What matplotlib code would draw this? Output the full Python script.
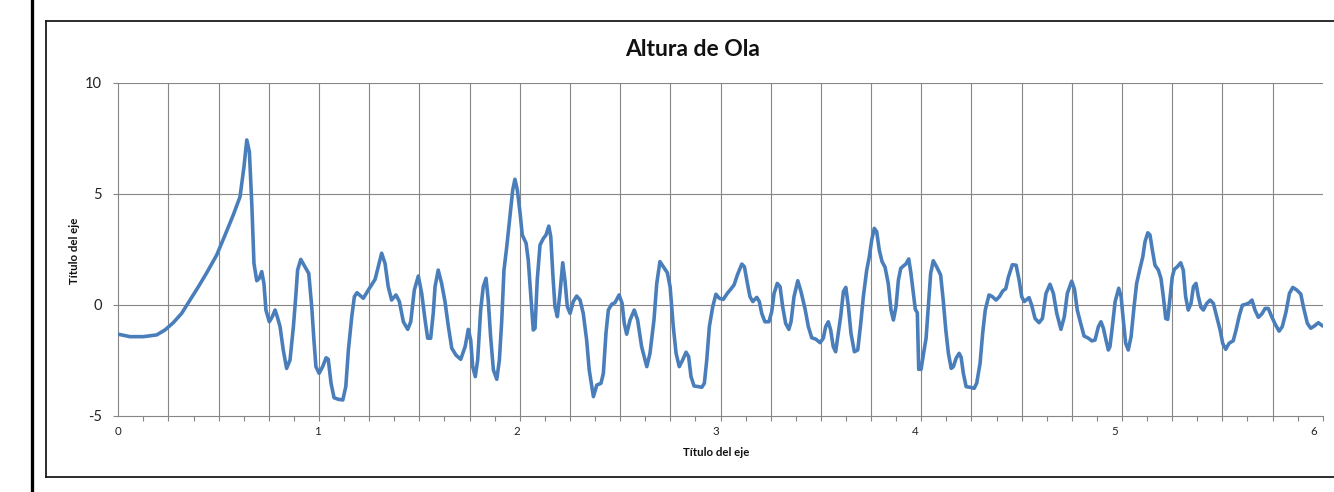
import numpy as np
import matplotlib
matplotlib.use("Agg")
import matplotlib.pyplot as plt
from matplotlib.lines import Line2D

# ---------------- data ----------------
title = "Altura de Ola"
x_title = "Título del eje"
y_title = "Título del eje"
x_tick_vals = [0, 1, 2, 3, 4, 5, 6]
x_tick_labels = ["0", "1", "2", "3", "4", "5", "6"]
y_tick_vals = [-5, 0, 5, 10]
y_tick_labels = ["-5", "0", "5", "10"]
x_max = 6.046

wave_x = [
    0.000, 0.059, 0.126, 0.193, 0.234, 0.276, 0.318, 0.360, 0.402, 0.444,
    0.494, 0.536, 0.577, 0.611, 0.631, 0.645, 0.658, 0.670, 0.681, 0.695,
    0.708, 0.720, 0.731, 0.741, 0.758, 0.773, 0.787, 0.798, 0.812, 0.828,
    0.845, 0.862, 0.879, 0.892, 0.900, 0.916, 0.937, 0.956, 0.971, 0.982,
    0.992, 1.008, 1.026, 1.043, 1.054, 1.068, 1.083, 1.104, 1.127, 1.142,
    1.155, 1.172, 1.185, 1.198, 1.230, 1.255, 1.289, 1.305, 1.322, 1.339,
    1.355, 1.372, 1.394, 1.411, 1.431, 1.453, 1.468, 1.486, 1.506, 1.523,
    1.540, 1.553, 1.568, 1.581, 1.590, 1.606, 1.623, 1.640, 1.657, 1.674,
    1.695, 1.719, 1.741, 1.757, 1.769, 1.779, 1.792, 1.804, 1.819, 1.832,
    1.846, 1.857, 1.869, 1.883, 1.900, 1.913, 1.925, 1.936, 1.950, 1.966,
    1.980, 1.991, 2.003, 2.017, 2.028, 2.047, 2.058, 2.070, 2.083, 2.092,
    2.103, 2.117, 2.134, 2.147, 2.161, 2.171, 2.181, 2.192, 2.204, 2.217,
    2.231, 2.242, 2.254, 2.268, 2.284, 2.301, 2.318, 2.334, 2.351, 2.364,
    2.385, 2.402, 2.423, 2.435, 2.448, 2.460, 2.477, 2.493, 2.514, 2.529,
    2.540, 2.552, 2.569, 2.590, 2.607, 2.627, 2.653, 2.669, 2.689, 2.703,
    2.719, 2.736, 2.756, 2.770, 2.786, 2.800, 2.816, 2.833, 2.850, 2.863,
    2.875, 2.890, 2.912, 2.929, 2.942, 2.954, 2.967, 2.984, 3.000, 3.017,
    3.037, 3.057, 3.071, 3.091, 3.109, 3.130, 3.143, 3.158, 3.171, 3.185,
    3.205, 3.218, 3.230, 3.246, 3.266, 3.280, 3.292, 3.308, 3.322, 3.335,
    3.350, 3.366, 3.377, 3.392, 3.411, 3.427, 3.447, 3.464, 3.481, 3.501,
    3.523, 3.539, 3.551, 3.564, 3.576, 3.589, 3.601, 3.626, 3.640, 3.652,
    3.665, 3.678, 3.695, 3.712, 3.727, 3.740, 3.757, 3.770, 3.782, 3.795,
    3.807, 3.820, 3.834, 3.849, 3.865, 3.879, 3.891, 3.904, 3.916, 3.928,
    3.944, 3.954, 3.968, 3.979, 3.991, 4.001, 4.011, 4.018, 4.030, 4.041,
    4.055, 4.066, 4.078, 4.091, 4.108, 4.128, 4.141, 4.154, 4.167, 4.181,
    4.192, 4.206, 4.221, 4.231, 4.242, 4.256, 4.276, 4.296, 4.309, 4.326,
    4.339, 4.352, 4.371, 4.388, 4.406, 4.423, 4.440, 4.455, 4.468, 4.488,
    4.507, 4.522, 4.535, 4.548, 4.572, 4.585, 4.602, 4.622, 4.639, 4.657,
    4.677, 4.694, 4.711, 4.732, 4.749, 4.764, 4.786, 4.800, 4.814, 4.831,
    4.848, 4.870, 4.887, 4.903, 4.920, 4.933, 4.945, 4.958, 4.970, 4.978,
    4.990, 5.004, 5.022, 5.034, 5.045, 5.057, 5.070, 5.084, 5.099, 5.112,
    5.129, 5.143, 5.154, 5.168, 5.179, 5.191, 5.204, 5.221, 5.234, 5.246,
    5.258, 5.268, 5.280, 5.291, 5.301, 5.316, 5.333, 5.346, 5.358, 5.371,
    5.385, 5.397, 5.410, 5.422, 5.435, 5.447, 5.464, 5.481, 5.497, 5.514,
    5.531, 5.544, 5.559, 5.576, 5.597, 5.611, 5.628, 5.643, 5.661, 5.678,
    5.691, 5.706, 5.723, 5.740, 5.757, 5.773, 5.790, 5.807, 5.827, 5.843,
    5.862, 5.879, 5.896, 5.916, 5.936, 5.949, 5.969, 5.986, 6.004, 6.024,
    6.046,
]

wave_y = [
    -1.33, -1.44, -1.44, -1.36, -1.14, -0.81, -0.39, 0.21, 0.81, 1.44,
    2.24, 3.14, 4.04, 4.86, 6.22, 7.42, 6.89, 4.57, 1.86, 1.08,
    1.19, 1.49, 0.96, -0.24, -0.77, -0.54, -0.24, -0.54, -0.99, -2.04,
    -2.87, -2.49, -0.99, 0.51, 1.56, 2.04, 1.71, 1.41, -0.09, -1.59,
    -2.79, -3.09, -2.79, -2.39, -2.46, -3.54, -4.19, -4.26, -4.29, -3.69,
    -2.04, -0.54, 0.36, 0.54, 0.29, 0.66, 1.14, 1.71, 2.32, 1.86,
    0.81, 0.21, 0.44, 0.14, -0.77, -1.11, -0.77, 0.66, 1.29, 0.51,
    -0.69, -1.51, -1.51, -0.39, 0.81, 1.56, 0.96, 0.14, -0.99, -1.96,
    -2.27, -2.46, -1.89, -1.11, -1.59, -2.79, -3.24, -2.49, -0.24, 0.81,
    1.19, 0.21, -1.44, -2.94, -3.36, -2.49, -0.69, 1.56, 2.61, 3.96,
    5.17, 5.65, 5.17, 4.12, 3.14, 2.77, 2.01, 0.51, -1.14, -1.06,
    1.11, 2.69, 2.99, 3.14, 3.54, 3.06, 1.41, -0.09, -0.54, 0.51,
    1.89, 1.11, -0.09, -0.39, 0.14, 0.39, 0.21, -0.39, -1.59, -2.94,
    -4.14, -3.62, -3.54, -3.09, -1.29, -0.24, 0.02, 0.09, 0.44, 0.06,
    -0.84, -1.33, -0.69, -0.24, -0.69, -1.89, -2.79, -2.19, -0.69, 0.96,
    1.94, 1.71, 1.44, 0.81, -0.99, -2.19, -2.79, -2.49, -2.14, -2.34,
    -3.24, -3.66, -3.69, -3.72, -3.54, -2.49, -0.99, -0.09, 0.47, 0.29,
    0.24, 0.51, 0.66, 0.89, 1.37, 1.83, 1.71, 0.96, 0.36, 0.14,
    0.33, 0.14, -0.39, -0.77, -0.77, -0.32, 0.51, 0.96, 0.81, -0.09,
    -0.84, -1.11, -0.77, 0.36, 1.08, 0.59, -0.17, -0.99, -1.49, -1.55,
    -1.71, -1.51, -0.99, -0.77, -1.14, -1.89, -2.12, -0.54, 0.59, 0.78,
    -0.09, -1.29, -2.12, -2.04, -0.84, 0.36, 1.56, 2.16, 2.91, 3.44,
    3.29, 2.46, 1.94, 1.69, 0.96, -0.24, -0.69, -0.09, 1.11, 1.64,
    1.76, 1.84, 2.06, 1.41, 0.51, -0.21, -0.36, -2.91, -2.91, -2.27,
    -1.51, -0.09, 1.41, 1.98, 1.71, 1.34, 0.21, -1.14, -2.19, -2.87,
    -2.79, -2.41, -2.19, -2.37, -3.09, -3.69, -3.72, -3.77, -3.54, -2.64,
    -1.29, -0.24, 0.44, 0.36, 0.21, 0.36, 0.62, 0.72, 1.24, 1.80,
    1.78, 1.11, 0.36, 0.14, 0.32, -0.02, -0.62, -0.81, -0.62, 0.51,
    0.92, 0.51, -0.39, -1.11, -0.54, 0.51, 1.06, 0.70, -0.24, -0.84,
    -1.41, -1.51, -1.63, -1.59, -0.99, -0.77, -1.06, -1.59, -2.04, -1.89,
    -0.99, 0.14, 0.74, 0.36, -0.69, -1.74, -2.04, -1.44, -0.09, 0.96,
    1.64, 2.16, 2.84, 3.24, 3.14, 2.46, 1.78, 1.56, 1.19, 0.36,
    -0.62, -0.66, 0.36, 1.26, 1.59, 1.71, 1.89, 1.56, 0.36, -0.24,
    0.06, 0.81, 0.96, 0.36, -0.12, -0.24, 0.06, 0.21, 0.06, -0.54,
    -1.14, -1.74, -2.01, -1.74, -1.62, -1.14, -0.47, -0.02, 0.02, 0.09,
    0.21, -0.24, -0.57, -0.42, -0.17, -0.17, -0.54, -0.87, -1.19, -0.99,
    -0.32, 0.51, 0.78, 0.66, 0.48, -0.09, -0.84, -1.06, -0.96, -0.81,
    -0.96,
]

# ---------------- style ----------------
W, H = 1334, 492
DPI = 100
LINE_COLOR = "#4A7EBB"
GRID_COLOR = "#868686"
plt.rcParams["font.family"] = ["Lato", "DejaVu Sans"]
plt.rcParams["axes.unicode_minus"] = False

fig = plt.figure(figsize=(W / DPI, H / DPI), dpi=DPI)
fig.patch.set_facecolor("white")

left, right, top, bottom = 118.3, 1322.7, 82.7, 415.7
ax = fig.add_axes([left / W, 1 - bottom / H, (right - left) / W, (bottom - top) / H])

px = 72.0 / DPI  # points per pixel

# grid lines
step = x_max / 24
for gx in np.arange(step, x_max - step / 2, step):
    ax.axvline(gx, color=GRID_COLOR, lw=1.1 * px, zorder=1)
for gy in [0, 5, 10]:
    ax.axhline(gy, color=GRID_COLOR, lw=1.1 * px, zorder=1)

ax.plot(wave_x, wave_y, color=LINE_COLOR, lw=3.6 * px, zorder=3,
        solid_joinstyle="round", solid_capstyle="round")

ax.set_xlim(0, x_max)
ax.set_ylim(-5, 10)

for s in ["top", "right"]:
    ax.spines[s].set_visible(False)
for s in ["left", "bottom"]:
    ax.spines[s].set_color(GRID_COLOR)
    ax.spines[s].set_linewidth(1.1 * px)

ax.set_xticks(x_tick_vals)
ax.set_xticklabels(x_tick_labels, fontsize=8.3, color="#222222")
ax.set_xticks(np.arange(0, x_max + 1e-6, step / 2), minor=True)
ax.tick_params(axis="x", which="major", length=0, pad=7.5)
ax.tick_params(axis="x", which="minor", length=5 * px, width=1.1 * px,
               color=GRID_COLOR, direction="out")

ax.set_yticks(y_tick_vals)
ax.set_yticklabels(y_tick_labels, fontsize=10.5, color="#222222")
ax.tick_params(axis="y", which="major", length=5 * px, width=1.1 * px,
               color=GRID_COLOR, direction="out", pad=8.3)

# titles
fig.text(693 / W, 1 - 49 / H, title, ha="center", va="center",
         fontsize=16.5, fontweight="bold", color="#111111")
fig.text(716 / W, 1 - 452 / H, x_title, ha="center", va="center",
         fontsize=8.3, fontweight="bold", color="#111111")
fig.text(74 / W, 1 - 250.5 / H, y_title, ha="center", va="center",
         rotation=90, fontsize=8.3, fontweight="bold", color="#111111")

# outer frames
fig.add_artist(Line2D([31.7 / W, 31.7 / W], [0, 1], color="black", lw=3.3 * px,
                      transform=fig.transFigure))
bx0 = 46.3 / W
yt = 1 - 21 / H
yb = 1 - 477.3 / H
fig.add_artist(Line2D([bx0, 1.01], [yt, yt], color="#1a1a1a", lw=1.8 * px,
                      transform=fig.transFigure))
fig.add_artist(Line2D([bx0, 1.01], [yb, yb], color="#1a1a1a", lw=1.8 * px,
                      transform=fig.transFigure))
fig.add_artist(Line2D([bx0, bx0], [yb, yt], color="#1a1a1a", lw=1.8 * px,
                      transform=fig.transFigure))

fig.savefig("out.png", dpi=DPI)
